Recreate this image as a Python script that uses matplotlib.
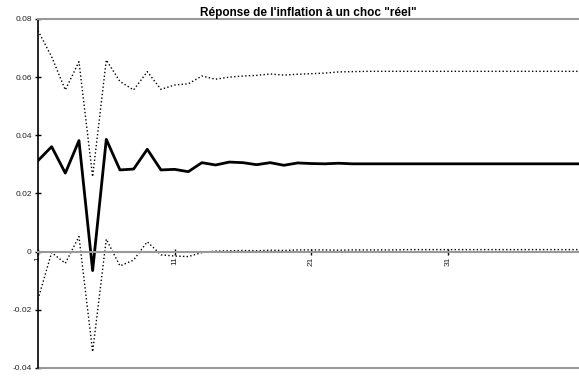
import matplotlib
matplotlib.use("Agg")
import matplotlib.pyplot as plt

plt.rcParams['font.family'] = ['Liberation Sans', 'DejaVu Sans']

# periods 1..41
periods = list(range(1, 42))

# central response
reponse = [0.0313, 0.0361, 0.0270, 0.0382, -0.0065, 0.0386, 0.0281, 0.0284, 0.0352, 0.0281,
           0.0283, 0.0275, 0.0306, 0.0298, 0.0308, 0.0306, 0.0299, 0.0306, 0.0297, 0.0305,
           0.0303, 0.0302, 0.0304, 0.0302, 0.0302, 0.0302, 0.0302, 0.0302, 0.0302, 0.0302,
           0.0302, 0.0302, 0.0302, 0.0302, 0.0302, 0.0302, 0.0302, 0.0302, 0.0302, 0.0302,
           0.0302]

# upper band
borne_sup = [0.0760, 0.0670, 0.0556, 0.0653, 0.0258, 0.0659, 0.0585, 0.0556, 0.0619, 0.0558,
             0.0573, 0.0577, 0.0604, 0.0593, 0.0600, 0.0604, 0.0606, 0.0611, 0.0607, 0.0610,
             0.0612, 0.0614, 0.0618, 0.0619, 0.0620, 0.0620, 0.0620, 0.0620, 0.0620, 0.0620,
             0.0620, 0.0620, 0.0620, 0.0620, 0.0620, 0.0620, 0.0620, 0.0620, 0.0620, 0.0620,
             0.0620]

# lower band
borne_inf = [-0.0164, -0.0003, -0.0040, 0.0052, -0.0344, 0.0043, -0.0049, -0.0029, 0.0034, -0.0011,
             -0.0015, -0.0017, -0.0003, 0.0002, 0.0003, 0.0004, 0.0003, 0.0005, 0.0004, 0.0006,
             0.0006, 0.0006, 0.0005, 0.0006, 0.0006, 0.0006, 0.0006, 0.0007, 0.0007, 0.0007,
             0.0007, 0.0007, 0.0007, 0.0007, 0.0007, 0.0007, 0.0007, 0.0007, 0.0007, 0.0007,
             0.0007]

yticks = [-0.04, -0.02, 0, 0.02, 0.04, 0.06, 0.08]
ylabels = ["-0.04", "-0.02", "0", "0.02", "0.04", "0.06", "0.08"]
xticks = [1, 11, 21, 31]

fig = plt.figure(figsize=(5.79, 3.76), dpi=100)
ax = fig.add_axes([0.0656, 0.0213, 0.9344, 0.9282])

# spine position first: it resets the ticks
ax.spines['right'].set_visible(False)
ax.spines['top'].set_color('#999999')
ax.spines['left'].set_color('black')
ax.spines['left'].set_linewidth(1.2)
ax.spines['bottom'].set_position(('data', 0))
ax.spines['bottom'].set_color('#999999')
ax.spines['bottom'].set_linewidth(1.5)
ax.spines['top'].set_linewidth(1.5)

ax.plot(periods, borne_sup, color='black', linestyle=':', linewidth=1)
ax.plot(periods, borne_inf, color='black', linestyle=':', linewidth=1)
ax.plot(periods, reponse, color='black', linewidth=2)

ax.set_xlim(1, 40.6)
ax.set_ylim(-0.04, 0.08)
ax.axhline(-0.04, color='#999999', linewidth=1.5, clip_on=False)

ax.set_yticks(yticks)
ax.set_yticklabels(ylabels)
ax.set_xticks(xticks)
ax.set_xticklabels([str(t) for t in xticks])
ax.tick_params(axis='both', direction='inout', length=5, width=1, pad=2,
               labelsize=6, labelcolor='#222222')
ax.tick_params(axis='x', labelrotation=90, pad=1)

ax.set_title("Réponse de l'inflation à un choc \"réel\"", fontsize=8.5,
             fontweight='bold', pad=1)

fig.savefig("out.png", dpi=100)
